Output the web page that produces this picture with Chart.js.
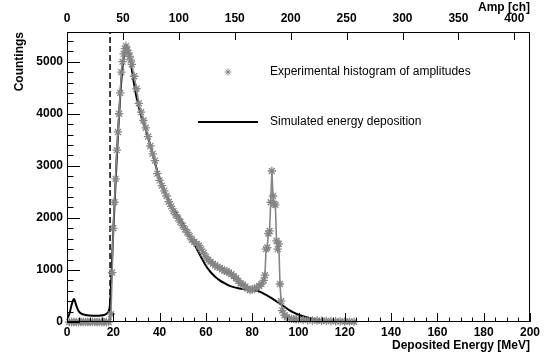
<!DOCTYPE html>
<html><head><meta charset="utf-8">
<script src="https://cdn.jsdelivr.net/npm/chart.js@4/dist/chart.umd.min.js"></script>
<style>html,body{margin:0;padding:0;background:#fff}</style>
</head><body>
<canvas id="c" width="544" height="356"></canvas>
<script>
// ---- data ----
const simEnergy = [0,1,2,3,4,5,6,8,10,12,14,16,17,18,18.6,19.2,20,21,22,23,24,25,25.8,26.5,27,
  28,29,30,31,32,33,34,35,36,37,38,39,40,
  42,44,46,48,50,52,54,56,58,60,62,64,66,68,70,72,74,76,78,80,82,84,86,88,90,92,94,96,98,100,
  103,106,110,115,120,125,150,200];
const simCounts = [60,150,330,440,320,210,165,135,125,120,122,135,160,210,350,900,1750,2700,3600,4350,4900,5220,5300,5220,5150,
  4850,4560,4320,4130,3960,3820,3690,3550,3400,3230,3060,2900,2760,
  2530,2330,2170,2040,1890,1740,1580,1410,1240,1080,960,870,800,745,700,670,650,635,625,615,600,570,520,470,410,350,290,230,180,140,
  95,60,30,12,4,0,0,0];

const expEnergy = [1,2,3,4,5,6,7,8,9,10,11,12,13,14,15,16,17,18,
  19,19.5,20,20.5,21,21.5,22,22.5,23,23.5,24,24.5,25,25.5,26,26.5,27,27.5,
  28,29,30,31,32,33,34,35,36,37,38,39,40,41,42,43,44,45,46,47,48,49,50,51,52,53,54,55,56,57,
  58,59,60,61,62,63,64,65,66,67,68,69,70,71,72,73,74,75,76,77,78,79,80,81,82,83,84,85,
  85.5,86,86.5,87,87.5,88,88.5,89,89.5,90,90.5,91,91.5,92,92.5,93,
  94,95,96,97,98,99,100,102,104,106,108,110,112,114,116,118,120,122,124];
const expCounts = [0,0,0,0,0,0,0,0,0,0,0,0,0,0,0,0,0,0,
  150,950,1800,2300,2750,3300,3650,4000,4400,4800,5000,5150,5250,5300,5220,5170,5100,5030,
  4950,4720,4480,4200,4030,3870,3730,3560,3380,3230,3100,2850,2720,2620,2520,2420,2310,2220,2130,2060,1990,1920,1850,1780,1720,1650,1580,1540,1500,1470,
  1400,1320,1250,1190,1160,1120,1090,1060,1040,1010,990,970,950,920,880,840,790,740,720,680,640,615,625,645,660,690,730,800,
  900,1400,1430,1700,1750,2300,2900,2420,2270,2250,1560,1400,1500,730,400,220,
  130,90,70,60,55,50,45,40,35,30,28,25,22,18,15,12,10,8,5];

const thresholdEnergy = 18.6;
const energyTicks = [0,20,40,60,80,100,120,140,160,180,200];
const ampTicks = [0,50,100,150,200,250,300,350,400];
const countTicks = [0,1000,2000,3000,4000,5000];
const legendLabels = ['Experimental histogram of amplitudes', 'Simulated energy deposition'];

// ---- chart ----
const FONT = "'Liberation Sans', Arial, Helvetica, sans-serif";
Chart.defaults.font.family = FONT;
Chart.defaults.color = '#000';
const GRAY = '#858585';

const pts = (xs, ys) => xs.map((x, i) => ({x: x, y: ys[i]}));
const Y_MAX = 5570, E_MAX = 200, AMP_MAX = 414;

function drawStar(ctx, x, y, r) {
  ctx.beginPath();
  ctx.moveTo(x - r, y); ctx.lineTo(x + r, y);
  ctx.moveTo(x, y - r); ctx.lineTo(x, y + r);
  const d = r * 0.7071;
  ctx.moveTo(x - d, y - d); ctx.lineTo(x + d, y + d);
  ctx.moveTo(x - d, y + d); ctx.lineTo(x + d, y - d);
  ctx.stroke();
}

const rootStyle = {
  id: 'rootStyle',
  afterDraw(chart) {
    const {ctx, chartArea: a, scales} = chart;
    ctx.save();
    ctx.strokeStyle = '#000';
    ctx.lineWidth = 1;
    // frame
    ctx.strokeRect(Math.round(a.left) + 0.5, Math.round(a.top) + 0.5,
      Math.round(a.right - a.left) - 1, Math.round(a.bottom - a.top) - 1);
    ctx.beginPath();
    // y ticks (left, inward)
    for (let v = 0; v <= Y_MAX; v += 200) {
      const p = Math.round(scales.y.getPixelForValue(v)) + 0.5;
      const len = (v % 1000 === 0) ? 13 : 6.5;
      ctx.moveTo(a.left, p); ctx.lineTo(a.left + len, p);
    }
    // bottom ticks
    for (let v = 0; v <= E_MAX; v += 5) {
      const p = Math.round(scales.x.getPixelForValue(v)) + 0.5;
      const len = (v % 20 === 0) ? 9 : 4.5;
      ctx.moveTo(p, a.bottom); ctx.lineTo(p, a.bottom - len);
    }
    // top ticks
    for (const v of ampTicks) {
      const p = Math.round(scales.x2.getPixelForValue(v)) + 0.5;
      ctx.moveTo(p, a.top); ctx.lineTo(p, a.top + 8);
    }
    ctx.stroke();

    // legend
    ctx.font = '12px ' + FONT;
    ctx.fillStyle = '#000';
    ctx.textBaseline = 'middle';
    ctx.textAlign = 'left';
    ctx.strokeStyle = GRAY;
    ctx.lineWidth = 1;
    drawStar(ctx, 228, 72, 3.5);
    ctx.fillText(legendLabels[0], 270, 72);
    ctx.strokeStyle = '#000';
    ctx.lineWidth = 2;
    ctx.beginPath(); ctx.moveTo(198, 122); ctx.lineTo(258, 122); ctx.stroke();
    ctx.fillText(legendLabels[1], 270, 122);
    ctx.restore();
  }
};

const tickFont = {family: FONT, size: 12, weight: 'bold'};
const fmt = v => String(v);

new Chart(document.getElementById('c'), {
  type: 'line',
  data: {
    datasets: [
      {
        label: legendLabels[0],
        data: pts(expEnergy, expCounts),
        borderColor: GRAY, borderWidth: 1.6, tension: 0,
        pointStyle: 'star', pointRadius: 4.2, pointBorderColor: GRAY, pointBorderWidth: 1.3,
        pointBackgroundColor: GRAY, clip: false, order: 0
      },
      {
        label: legendLabels[1],
        data: pts(simEnergy, simCounts),
        borderColor: '#000', borderWidth: 2, pointRadius: 0,
        cubicInterpolationMode: 'monotone', order: 1
      },
      {
        label: 'threshold',
        data: [{x: thresholdEnergy, y: 0}, {x: thresholdEnergy, y: Y_MAX}],
        borderColor: '#000', borderWidth: 1.5, borderDash: [6, 3], pointRadius: 0, order: 2
      }
    ]
  },
  options: {
    responsive: false, animation: false, devicePixelRatio: 1,
    layout: {padding: {left: 0, right: 14, top: 0, bottom: 0}},
    plugins: {legend: {display: false}, tooltip: {enabled: false}},
    scales: {
      x: {
        type: 'linear', position: 'bottom', min: 0, max: E_MAX,
        afterFit: s => { s.height = 34; },
        afterBuildTicks: s => { s.ticks = energyTicks.map(v => ({value: v})); },
        grid: {display: false, drawTicks: false, tickLength: 0}, border: {display: false},
        ticks: {font: tickFont, color: '#000', padding: 3, maxRotation: 0, autoSkip: false, callback: fmt},
        title: {display: true, text: 'Deposited Energy [MeV]', align: 'end', color: '#000',
          font: {family: FONT, size: 12, weight: 'bold'}, padding: {top: 0, bottom: 3}}
      },
      x2: {
        type: 'linear', position: 'top', min: 0, max: AMP_MAX,
        afterFit: s => { s.height = 32; },
        afterBuildTicks: s => { s.ticks = ampTicks.map(v => ({value: v})); },
        grid: {display: false, drawTicks: false, tickLength: 0}, border: {display: false},
        ticks: {font: tickFont, color: '#000', padding: 6, maxRotation: 0, autoSkip: false, callback: fmt},
        title: {display: true, text: 'Amp [ch]', align: 'end', color: '#000',
          font: {family: FONT, size: 12, weight: 'bold'}, padding: {top: 0, bottom: 0}}
      },
      y: {
        type: 'linear', position: 'left', min: 0, max: Y_MAX,
        afterFit: s => { s.width = 67; },
        afterBuildTicks: s => { s.ticks = countTicks.map(v => ({value: v})); },
        grid: {display: false, drawTicks: false, tickLength: 0}, border: {display: false},
        ticks: {font: tickFont, color: '#000', padding: 4, autoSkip: false, callback: fmt},
        title: {display: true, text: 'Countings', align: 'end', color: '#000',
          font: {family: FONT, size: 12, weight: 'bold'}, padding: {top: 12, bottom: 0}}
      }
    }
  },
  plugins: [rootStyle]
});
</script>
</body></html>
